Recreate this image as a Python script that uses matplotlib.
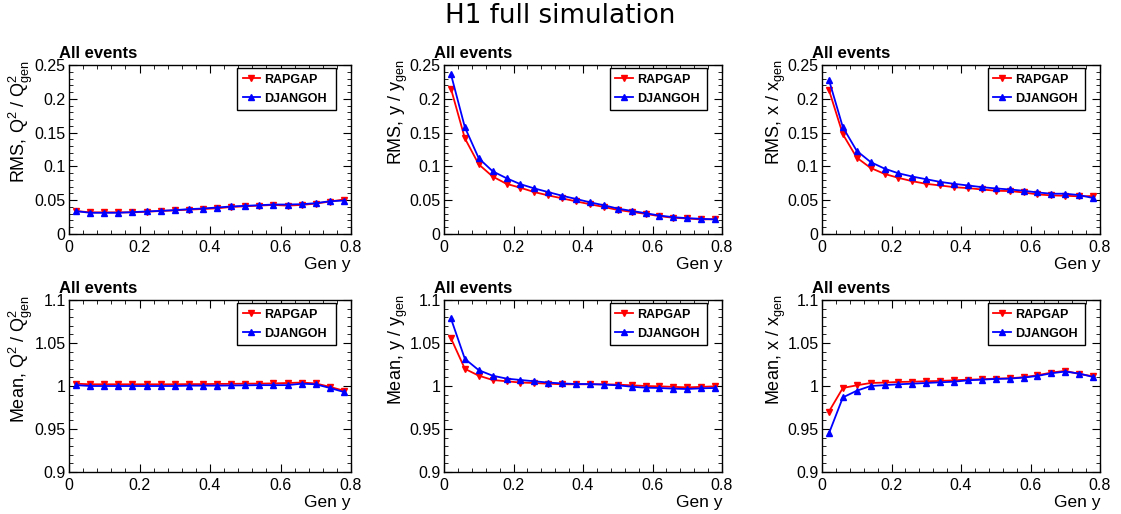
import matplotlib
matplotlib.use('Agg')
import matplotlib.pyplot as plt
from matplotlib.ticker import MultipleLocator, FormatStrFormatter

plt.rcParams['font.family'] = ['Liberation Sans', 'DejaVu Sans']
plt.rcParams['mathtext.default'] = 'regular'

# bin centres in generated y
gen_y = [0.02, 0.06, 0.10, 0.14, 0.18, 0.22, 0.26, 0.30, 0.34, 0.38,
         0.42, 0.46, 0.50, 0.54, 0.58, 0.62, 0.66, 0.70, 0.74, 0.78]

# RMS of reco/gen ratios
rms_q2_rapgap = [0.034, 0.032, 0.032, 0.032, 0.032, 0.033, 0.034, 0.035, 0.036, 0.037,
                 0.038, 0.040, 0.041, 0.042, 0.043, 0.042, 0.043, 0.045, 0.048, 0.051]
rms_q2_djangoh = [0.0338, 0.0314, 0.0314, 0.0314, 0.0324, 0.0333, 0.0343, 0.0353, 0.0368, 0.0377,
                  0.0392, 0.0407, 0.0417, 0.0426, 0.0436, 0.0436, 0.0441, 0.0456, 0.0485, 0.0495]
rms_y_rapgap = [0.215, 0.1416, 0.103, 0.085, 0.0742, 0.0684, 0.062, 0.0571, 0.0527, 0.0483,
                0.044, 0.040, 0.0356, 0.0327, 0.0298, 0.0264, 0.024, 0.023, 0.0215, 0.022]
rms_y_djangoh = [0.2363, 0.158, 0.112, 0.0928, 0.0825, 0.0737, 0.0674, 0.062, 0.0566, 0.0518,
                 0.0469, 0.0425, 0.0376, 0.0342, 0.0308, 0.0273, 0.0249, 0.0234, 0.0225, 0.0215]
rms_x_rapgap = [0.213, 0.1475, 0.113, 0.0977, 0.0889, 0.083, 0.0781, 0.0742, 0.0718, 0.0693,
                0.0679, 0.0659, 0.064, 0.0635, 0.0615, 0.0586, 0.0571, 0.0566, 0.0557, 0.0562]
rms_x_djangoh = [0.228, 0.158, 0.123, 0.1064, 0.0967, 0.0898, 0.085, 0.081, 0.0771, 0.0742,
                 0.0718, 0.0693, 0.0674, 0.0659, 0.064, 0.0615, 0.0596, 0.0596, 0.0576, 0.0532]

# mean of reco/gen ratios
mean_q2_rapgap = [1.0027, 1.002, 1.002, 1.002, 1.002, 1.002, 1.002, 1.002, 1.0022, 1.0022,
                  1.0024, 1.0025, 1.0027, 1.0028, 1.003, 1.0035, 1.004, 1.003, 0.999, 0.9945]
mean_q2_djangoh = [1.001, 1.000, 1.000, 1.000, 1.000, 1.000, 1.000, 1.000, 1.0004, 1.0004,
                   1.0004, 1.0006, 1.0008, 1.001, 1.001, 1.001, 1.0027, 1.002, 0.9977, 0.993]
mean_y_rapgap = [1.0555, 1.020, 1.012, 1.007, 1.0055, 1.004, 1.0035, 1.0027, 1.002, 1.002,
                 1.002, 1.002, 1.0016, 1.0008, 1.000, 0.9996, 0.999, 0.9984, 0.999, 0.9996]
mean_y_djangoh = [1.0785, 1.0316, 1.0184, 1.012, 1.0086, 1.007, 1.0055, 1.004, 1.003, 1.0023,
                  1.0023, 1.0016, 1.0008, 0.9992, 0.998, 0.9977, 0.9969, 0.9965, 0.9973, 0.9977]
mean_x_rapgap = [0.9703, 0.9977, 1.0008, 1.0035, 1.004, 1.0047, 1.005, 1.0055, 1.0059, 1.0066,
                 1.0074, 1.0078, 1.0086, 1.009, 1.0102, 1.0125, 1.0156, 1.0176, 1.014, 1.0113]
mean_x_djangoh = [0.9449, 0.9867, 0.9945, 1.000, 1.001, 1.002, 1.0027, 1.0035, 1.0043, 1.005,
                  1.0066, 1.0074, 1.0082, 1.0086, 1.0098, 1.0117, 1.0148, 1.0168, 1.0145, 1.0105]

rapgap_series = [rms_q2_rapgap, rms_y_rapgap, rms_x_rapgap,
                 mean_q2_rapgap, mean_y_rapgap, mean_x_rapgap]
djangoh_series = [rms_q2_djangoh, rms_y_djangoh, rms_x_djangoh,
                  mean_q2_djangoh, mean_y_djangoh, mean_x_djangoh]
y_titles = [r'RMS, Q$^{2}$ / Q$^{2}_{gen}$', r'RMS, y / y$_{gen}$', r'RMS, x / x$_{gen}$',
            r'Mean, Q$^{2}$ / Q$^{2}_{gen}$', r'Mean, y / y$_{gen}$', r'Mean, x / x$_{gen}$']

W, H = 1121, 514
fig = plt.figure(figsize=(W / 100, H / 100), dpi=100)

fig.text(0.5, 1 - 23 / H, 'H1 full simulation', ha='center', va='baseline',
         fontsize=18.8, family='DejaVu Sans')

# pad layout in pixels (left, width) and (top, bottom)
col_px = [(69, 282), (444, 278), (822, 278)]
row_px = [(65, 234), (300, 472)]

for i in range(6):
    row, col = divmod(i, 3)
    left, width = col_px[col]
    top, bottom = row_px[row]
    ax = fig.add_axes([left / W, 1 - bottom / H, width / W, (bottom - top) / H])

    ax.plot(gen_y, rapgap_series[i], color='red', marker='v', markersize=5,
            lw=1.3, label='RAPGAP')
    ax.plot(gen_y, djangoh_series[i], color='blue', marker='^', markersize=5,
            lw=1.3, label='DJANGOH')

    ax.set_xlim(0, 0.8)
    if row == 0:
        ax.set_ylim(0, 0.25)
    else:
        ax.set_ylim(0.9, 1.1)
    ax.xaxis.set_major_locator(MultipleLocator(0.2))
    ax.xaxis.set_minor_locator(MultipleLocator(0.04))
    ax.yaxis.set_major_locator(MultipleLocator(0.05))
    ax.yaxis.set_minor_locator(MultipleLocator(0.01))
    ax.xaxis.set_major_formatter(FormatStrFormatter('%g'))
    ax.yaxis.set_major_formatter(FormatStrFormatter('%g'))
    ax.tick_params(which='both', direction='in', top=True, right=True, labelsize=11.5)
    ax.tick_params(which='major', length=5.5)
    ax.tick_params(which='minor', length=2.8)
    ax.tick_params(axis='x', pad=4.5)
    ax.tick_params(axis='y', pad=2.5)
    for sp in ax.spines.values():
        sp.set_linewidth(1.0)

    ax.set_xlabel('Gen y', fontsize=12.5, loc='right')
    ax.xaxis.set_label_coords(1.0, -0.135)
    ax.set_ylabel(y_titles[i], fontsize=13, loc='top')
    ax.yaxis.set_label_coords(-34 / width, 1.03)

    ax.text(-10 / width, 1 + 7 / (bottom - top), 'All events', transform=ax.transAxes,
            fontsize=12, fontweight='bold', va='baseline', ha='left')

    leg = ax.legend(loc='upper left', bbox_to_anchor=(0.596, 0.734, 0.351, 0.248),
                    mode='expand', borderaxespad=0, fancybox=False, framealpha=1,
                    edgecolor='black', prop={'weight': 'bold', 'size': 9},
                    handlelength=1.4, handletextpad=0.35, labelspacing=0.55,
                    borderpad=0.45)
    leg.get_frame().set_linewidth(1.0)

fig.savefig('out.png', dpi=100)
